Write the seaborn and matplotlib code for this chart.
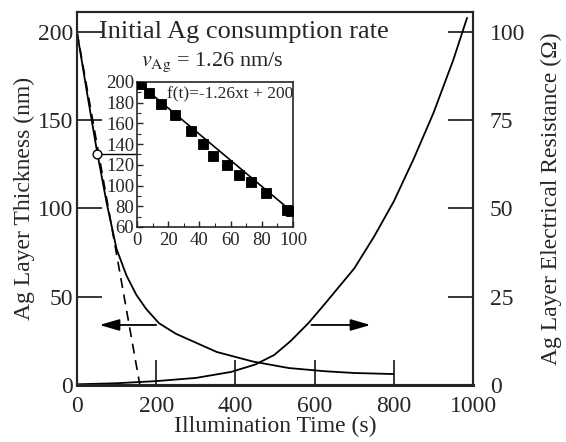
import matplotlib
matplotlib.use("Agg")
import matplotlib.pyplot as plt
import seaborn as sns
import numpy as np
import pandas as pd

# ---- data ----
thick_t = [0, 25, 50, 75, 100, 125, 150, 175, 207, 250, 280, 353, 444, 535, 626, 700, 800]
thick_v = [200, 166, 133, 103, 77, 62, 51, 43, 35, 29, 26, 18.7, 13.3, 9.6, 7.8, 6.8, 6.2]

res_t = [0, 100, 200, 300, 389, 450, 498, 540, 585, 626, 700, 750, 800, 850, 900, 950, 985]
res_v = [0.2, 0.5, 1.1, 2.0, 3.7, 5.8, 8.5, 12.5, 17.6, 23, 33, 42, 52, 64, 77, 92, 104]

fit_t = [0, 159]
fit_v = [200, -0.34]

inset_t = [2.6, 7.9, 15.2, 24.4, 34.6, 42.5, 48.5, 58, 65.4, 73, 82.7, 96, 98.5]
inset_v = [198, 189, 179, 168, 153, 140, 129, 120, 110, 103, 93, 76, 75]
inset_fit_t = [0, 100]
inset_fit_v = [200, 74]

marker_t = [50]
marker_v = [131]

left_ticks = [0, 50, 100, 150, 200]
right_ticks = [0, 25, 50, 75, 100]
x_ticks = [0, 200, 400, 600, 800, 1000]
inset_xticks = [0, 20, 40, 60, 80, 100]
inset_yticks = [60, 80, 100, 120, 140, 160, 180, 200]

sns.set_style("ticks")
plt.rcParams['font.family'] = ['Liberation Serif', 'DejaVu Serif']
plt.rcParams['mathtext.fontset'] = 'stix'

fig = plt.figure(figsize=(5.66, 4.42), dpi=100)
ax = fig.add_axes([77/566, 1-385/442, (473-77)/566, (385-12)/442])
ax2 = ax.twinx()

df_th = pd.DataFrame({"t": thick_t, "v": thick_v})
df_r = pd.DataFrame({"t": res_t, "v": res_v})
df_fit = pd.DataFrame({"t": fit_t, "v": fit_v})

sns.lineplot(data=df_fit, x="t", y="v", ax=ax, color="black", lw=1.2,
             linestyle=(0, (6, 4)), sort=False)
sns.lineplot(data=df_th, x="t", y="v", ax=ax, color="black", lw=1.3, sort=False)
sns.lineplot(data=df_r, x="t", y="v", ax=ax2, color="black", lw=1.3, sort=False)

ax.set_xlim(0, 1000)
ax.set_ylim(0, 211.3)
ax2.set_ylim(0, 211.3/2)

ax.set_xticks(x_ticks)
ax.set_yticks(left_ticks)
ax2.set_yticks(right_ticks)
for a in (ax, ax2):
    a.tick_params(direction="in", length=18, width=1.3, labelsize=17, pad=3)
ax.tick_params(axis="x", pad=8)
ax2.tick_params(axis="y", pad=12)
for s in ax.spines.values():
    s.set_linewidth(1.5)
ax.spines["bottom"].set_linewidth(2.2)
for s in ax2.spines.values():
    s.set_linewidth(1.5)

ax.set_xlabel("Illumination Time (s)", fontsize=17, labelpad=-1)
ax.set_ylabel("Ag Layer Thickness (nm)", fontsize=17, labelpad=2)
ax2.set_ylabel("Ag Layer Electrical Resistance (Ω)", fontsize=17, labelpad=11)

# arrows
ax.annotate("", xy=(50, 34), xytext=(207, 34),
            arrowprops=dict(arrowstyle="-|>,head_length=1.2,head_width=0.35",
                            color="black", lw=1.3))
ax.annotate("", xy=(748, 34), xytext=(585, 34),
            arrowprops=dict(arrowstyle="-|>,head_length=1.2,head_width=0.35",
                            color="black", lw=1.3))

# connector line and open circle marker
ax.plot([marker_t[0], 152], [marker_v[0], marker_v[0]], color="black", lw=1.0)
sns.scatterplot(x=marker_t, y=marker_v, ax=ax, s=40, facecolor="white",
                edgecolor="black", linewidth=1.0, zorder=5)

# title text
ax.text(55, 200, "Initial Ag consumption rate", fontsize=19, va="center", ha="left")
ax.text(341, 183, r"$v_{\mathrm{Ag}}$ = 1.26 nm/s", fontsize=16, va="center", ha="center")

# inset
ins = fig.add_axes([137/566, 1-227/442, (293-137)/566, (227-82)/442])
df_in = pd.DataFrame({"t": inset_t, "v": inset_v})
df_inf = pd.DataFrame({"t": inset_fit_t, "v": inset_fit_v})
sns.lineplot(data=df_inf, x="t", y="v", ax=ins, color="black", lw=1.2)
sns.scatterplot(data=df_in, x="t", y="v", ax=ins, marker="s", s=60,
                color="black", edgecolor="black", zorder=5)
ins.set_xlim(0, 100)
ins.set_ylim(60, 200)
ins.set_xticks(inset_xticks)
ins.set_yticks(inset_yticks)
ins.set_xticks(np.arange(0, 101, 10), minor=True)
ins.set_yticks(np.arange(60, 201, 10), minor=True)
ins.tick_params(direction="in", length=4, width=1.0, labelsize=13.5, pad=1)
ins.tick_params(axis="x", pad=3.5)
ins.tick_params(axis="y", pad=2)
ins.tick_params(which="minor", direction="in", length=3, width=0.8)
ins.set_xlabel("")
ins.set_ylabel("")
for s in ins.spines.values():
    s.set_linewidth(1.2)
ins.text(19, 188, "f(t)=-1.26xt + 200", fontsize=12.5, va="center", ha="left")

fig.savefig("out.png", dpi=100)
